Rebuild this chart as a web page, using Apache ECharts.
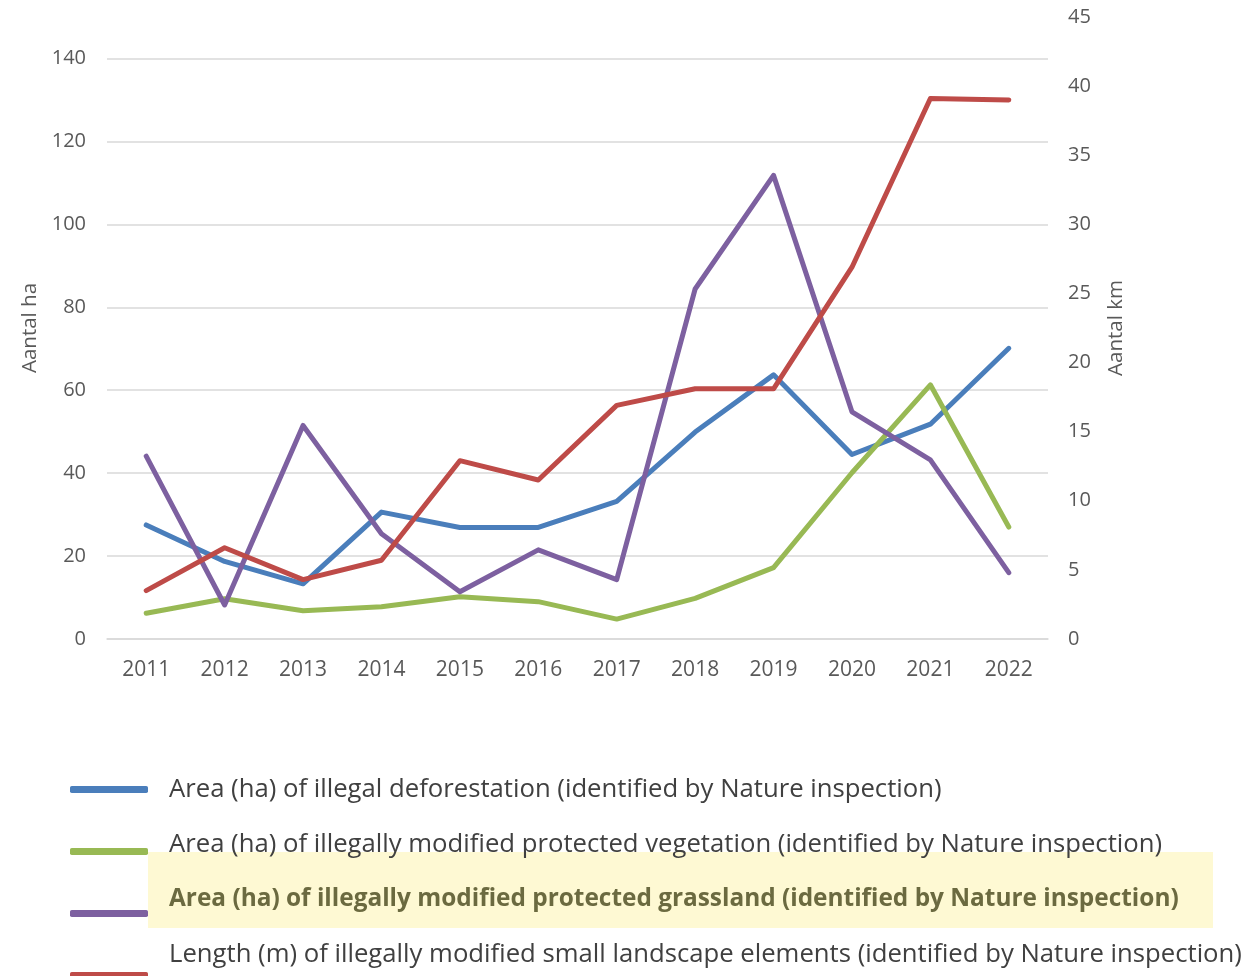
<!DOCTYPE html>
<html>
<head>
<meta charset="utf-8">
<script src="https://cdn.jsdelivr.net/npm/echarts@6/dist/echarts.min.js"></script>
<style>
html,body{margin:0;padding:0;background:#fff;}
#chart{width:1245px;height:976px;}
</style>
</head>
<body>
<div id="chart"></div>
<script>
var years = ['2011','2012','2013','2014','2015','2016','2017','2018','2019','2020','2021','2022'];
var seriesNames = [
  'Area (ha) of illegal deforestation (identified by Nature inspection)',
  'Area (ha) of illegally modified protected vegetation (identified by Nature inspection)',
  'Area (ha) of illegally modified protected grassland (identified by Nature inspection)',
  'Length (m) of illegally modified small landscape elements (identified by Nature inspection)'
];
var deforestationHa = [27.5, 18.7, 13.3, 30.6, 26.9, 26.9, 33.2, 49.9, 63.7, 44.5, 51.8, 70.1];
var vegetationHa = [6.2, 9.7, 6.8, 7.8, 10.2, 9.0, 4.8, 9.8, 17.2, 40.1, 61.3, 27.0];
var grasslandHa = [44.1, 8.2, 51.5, 25.4, 11.4, 21.5, 14.3, 84.4, 111.8, 54.8, 43.2, 16.0];
var landscapeKm = [3.5, 6.6, 4.3, 5.7, 12.9, 11.5, 16.9, 18.1, 18.1, 26.9, 39.1, 39.0];
var highlightedName = seriesNames[2];

var colors = ['#4a7ebb', '#98b954', '#7d60a0', '#be4b48'];
var FONT = 'Open Sans';

var chart = echarts.init(document.getElementById('chart'), null, {renderer: 'canvas'});

function lineSeries(i, data, axisIdx) {
  return {
    name: seriesNames[i],
    type: 'line',
    yAxisIndex: axisIdx,
    data: data,
    showSymbol: false,
    symbol: 'none',
    lineStyle: {width: 5, color: colors[i], cap: 'round', join: 'round'},
    itemStyle: {color: colors[i]},
    animation: false
  };
}

chart.setOption({
  animation: false,
  textStyle: {fontFamily: FONT},
  grid: {left: 107, right: 197, top: 17, bottom: 337, containLabel: false},
  graphic: [{
    type: 'rect', z: -10, silent: true,
    shape: {x: 148, y: 852, width: 1065, height: 76},
    style: {fill: '#fef9d3'}
  }],
  legend: [{
    type: 'plain', orient: 'vertical', left: 70, top: 786, height: 400, width: 100,
    padding: 0, itemGap: 55,
    itemWidth: 78, itemHeight: 7, icon: 'roundRect',
    selectedMode: false, data: seriesNames,
    formatter: function () { return ''; },
    textStyle: {fontSize: 7, lineHeight: 7, padding: 0}
  }, {
    type: 'plain', orient: 'vertical', left: 164, top: 773, height: 400, width: 1100,
    padding: 0, itemGap: 22,
    itemWidth: 0, itemHeight: 0, icon: 'none',
    selectedMode: false, data: seriesNames,
    formatter: function (name) {
      return name === highlightedName ? '{h|' + name + '}' : name;
    },
    textStyle: {
      fontFamily: FONT, fontSize: 25.7, color: '#404040', lineHeight: 33,
      rich: {h: {fontFamily: FONT, fontSize: 24.4, fontWeight: 'bold', color: '#6b6a40', lineHeight: 33}}
    }
  }],
  xAxis: {
    type: 'category', data: years, boundaryGap: true,
    axisLine: {show: true, lineStyle: {color: '#d9d9d9', width: 1.5}},
    axisTick: {show: false},
    axisLabel: {color: '#595959', fontSize: 21, margin: 21, fontFamily: FONT}
  },
  yAxis: [{
    type: 'value', min: 0, max: 150, interval: 20,
    name: 'Aantal ha', nameLocation: 'middle', nameGap: 63, nameRotate: 90,
    nameTextStyle: {color: '#595959', fontSize: 20.5, fontFamily: FONT},
    axisLine: {show: false}, axisTick: {show: false},
    axisLabel: {color: '#595959', fontSize: 20, margin: 21, showMaxLabel: false, fontFamily: FONT},
    splitLine: {show: true, showMaxLine: false, lineStyle: {color: '#d9d9d9', width: 1.5}}
  }, {
    type: 'value', min: 0, max: 45, interval: 5, position: 'right',
    name: 'Aantal km', nameLocation: 'middle', nameGap: 58, nameRotate: 90,
    nameTextStyle: {color: '#595959', fontSize: 20.5, fontFamily: FONT},
    axisLine: {show: false}, axisTick: {show: false},
    axisLabel: {color: '#595959', fontSize: 20, margin: 20, fontFamily: FONT},
    splitLine: {show: false}
  }],
  series: [
    lineSeries(0, deforestationHa, 0),
    lineSeries(1, vegetationHa, 0),
    lineSeries(2, grasslandHa, 0),
    lineSeries(3, landscapeKm, 1)
  ]
});
</script>
</body>
</html>
